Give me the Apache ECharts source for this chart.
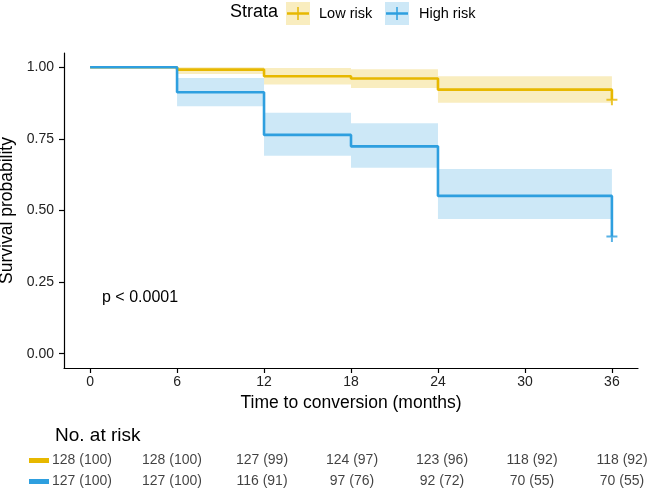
<!DOCTYPE html>
<html><head><meta charset="utf-8">
<script src="https://cdn.jsdelivr.net/npm/echarts@6/dist/echarts.min.js"></script>
<style>html,body{margin:0;padding:0;background:#fff}#c{width:649px;height:492px}</style>
</head><body><div id="c"></div>
<script>
// ---- data ----
const lowTimes = [0, 6, 12, 18, 24, 36];
const lowSurv = [1.0, 0.992, 0.969, 0.961, 0.922, 0.887];
const highTimes = [0, 6, 12, 18, 24, 36];
const highSurv = [1.0, 0.913, 0.764, 0.724, 0.551, 0.409];
const bandStart = [6, 12, 18, 24];
const bandEnd = [12, 18, 24, 36];
const lowUpper = [1.0, 0.998, 0.993, 0.969];
const lowLower = [0.977, 0.940, 0.928, 0.876];
const highUpper = [0.963, 0.841, 0.805, 0.645];
const highLower = [0.864, 0.691, 0.649, 0.470];
const censorLow = [[36, 0.887]];
const censorHigh = [[36, 0.409]];
const xTicks = [0, 6, 12, 18, 24, 30, 36];
const yTicks = [0, 0.25, 0.5, 0.75, 1.0];
const riskTimes = [0, 6, 12, 18, 24, 30, 36];
const riskLowN = [128, 128, 127, 124, 123, 118, 118];
const riskLowPct = [100, 100, 99, 97, 96, 92, 92];
const riskHighN = [127, 127, 116, 97, 92, 70, 70];
const riskHighPct = [100, 100, 91, 76, 72, 55, 55];
const strataNames = ['Low risk', 'High risk'];
const pText = 'p < 0.0001';

// ---- style ----
const YEL = '#E7B800', BLU = '#2E9FDF';
const YEL_F = 'rgba(231,184,0,0.25)', BLU_F = 'rgba(46,159,223,0.24)';
const FF = '"Liberation Sans", Arial, sans-serif';

function bandData(s, e, lo, hi) { return s.map((v, i) => [v, e[i], lo[i], hi[i]]); }
function bandSeries(data, fill) {
  return {
    type: 'custom', xAxisIndex: 0, yAxisIndex: 0, z: 1, silent: true,
    data: data,
    encode: { x: [0, 1], y: [2, 3] },
    renderItem: (params, api) => {
      const p0 = api.coord([api.value(0), api.value(3)]);
      const p1 = api.coord([api.value(1), api.value(2)]);
      return { type: 'rect', shape: { x: p0[0], y: p0[1], width: p1[0] - p0[0], height: p1[1] - p0[1] }, style: { fill: fill } };
    }
  };
}
const plusPath = 'path://M0,4.1L10,4.1L10,5.9L0,5.9Z M4.1,0L5.9,0L5.9,10L4.1,10Z';

const chart = echarts.init(document.getElementById('c'), null, { renderer: 'canvas' });
const option = {
  animation: false,
  textStyle: { fontFamily: FF },
  grid: [
    { left: 64, right: 11, top: 53, bottom: 124, containLabel: false, outerBoundsMode: 'none' },
    { left: 82, right: 27, top: 450, height: 42, containLabel: false, outerBoundsMode: 'none' }
  ],
  xAxis: [
    {
      type: 'value', gridIndex: 0, min: -1.8, max: 37.8,
      name: 'Time to conversion (months)', nameLocation: 'middle', nameGap: 26,
      nameTextStyle: { fontSize: 17.5, color: '#000', fontFamily: FF },
      axisLine: { show: true, onZero: false, lineStyle: { color: '#000', width: 1.2 } },
      axisTick: { show: true, length: 5, lineStyle: { color: '#000', width: 1.2 }, customValues: xTicks },
      axisLabel: { fontSize: 14, color: '#222', margin: 7, customValues: xTicks },
      splitLine: { show: false }
    },
    { type: 'value', gridIndex: 1, min: 0, max: 36, show: false }
  ],
  yAxis: [
    {
      type: 'value', gridIndex: 0, min: -0.05, max: 1.05,
      name: 'Survival probability', nameLocation: 'middle', nameGap: 43,
      nameTextStyle: { fontSize: 17.5, color: '#000', fontFamily: FF },
      axisLine: { show: true, onZero: false, lineStyle: { color: '#000', width: 1.2 } },
      axisTick: { show: true, length: 5, lineStyle: { color: '#000', width: 1.2 }, customValues: yTicks },
      axisLabel: { fontSize: 14, color: '#222', margin: 10, customValues: yTicks, formatter: v => v.toFixed(2) },
      splitLine: { show: false }
    },
    { type: 'category', gridIndex: 1, data: strataNames, inverse: true, show: false }
  ],
  series: [
    bandSeries(bandData(bandStart, bandEnd, lowLower, lowUpper), YEL_F),
    bandSeries(bandData(bandStart, bandEnd, highLower, highUpper), BLU_F),
    {
      type: 'line', name: strataNames[0], step: 'end', symbol: 'none', z: 3,
      data: lowTimes.map((t, i) => [t, lowSurv[i]]),
      lineStyle: { color: YEL, width: 2.6 }
    },
    {
      type: 'line', name: strataNames[1], step: 'end', symbol: 'none', z: 4,
      data: highTimes.map((t, i) => [t, highSurv[i]]),
      lineStyle: { color: BLU, width: 2.6 }
    },
    { type: 'scatter', symbol: plusPath, symbolSize: [11, 11], z: 5, data: censorLow, itemStyle: { color: YEL } },
    { type: 'scatter', symbol: plusPath, symbolSize: [11, 11], z: 5, data: censorHigh, itemStyle: { color: BLU } },
    {
      type: 'scatter', xAxisIndex: 1, yAxisIndex: 1, symbolSize: 1, itemStyle: { color: 'rgba(0,0,0,0)' },
      data: riskTimes.map((t, i) => ({ value: [t, 0], name: riskLowN[i] + ' (' + riskLowPct[i] + ')' })),
      label: { show: true, position: 'inside', formatter: '{b}', fontSize: 14, color: '#111', fontFamily: FF }
    },
    {
      type: 'scatter', xAxisIndex: 1, yAxisIndex: 1, symbolSize: 1, itemStyle: { color: 'rgba(0,0,0,0)' },
      data: riskTimes.map((t, i) => ({ value: [t, 1], name: riskHighN[i] + ' (' + riskHighPct[i] + ')' })),
      label: { show: true, position: 'inside', formatter: '{b}', fontSize: 14, color: '#111', fontFamily: FF }
    }
  ],
  graphic: [
    { type: 'text', left: 230, top: 3, style: { text: 'Strata', font: '18px ' + FF, fill: '#000' } },
    { type: 'rect', shape: { x: 286, y: 2, width: 24, height: 23 }, style: { fill: YEL_F } },
    { type: 'line', shape: { x1: 287, y1: 13.5, x2: 309, y2: 13.5 }, style: { stroke: YEL, lineWidth: 2.5 } },
    { type: 'line', shape: { x1: 298, y1: 7, x2: 298, y2: 20 }, style: { stroke: YEL, lineWidth: 1.5 } },
    { type: 'text', left: 319, top: 6, style: { text: strataNames[0], font: '14.5px ' + FF, fill: '#000' } },
    { type: 'rect', shape: { x: 385, y: 2, width: 24, height: 23 }, style: { fill: BLU_F } },
    { type: 'line', shape: { x1: 386, y1: 13.5, x2: 408, y2: 13.5 }, style: { stroke: BLU, lineWidth: 2.5 } },
    { type: 'line', shape: { x1: 397, y1: 7, x2: 397, y2: 20 }, style: { stroke: BLU, lineWidth: 1.5 } },
    { type: 'text', left: 419, top: 6, style: { text: strataNames[1], font: '14.5px ' + FF, fill: '#000' } },
    { type: 'text', left: 102, top: 290, style: { text: pText, font: '16px ' + FF, fill: '#000' } },
    { type: 'text', left: 55, top: 426, style: { text: 'No. at risk', font: '19px ' + FF, fill: '#000' } },
    { type: 'rect', shape: { x: 29, y: 458, width: 20, height: 5 }, style: { fill: YEL } },
    { type: 'rect', shape: { x: 29, y: 479, width: 20, height: 5 }, style: { fill: BLU } }
  ]
};
chart.setOption(option);
</script></body></html>
